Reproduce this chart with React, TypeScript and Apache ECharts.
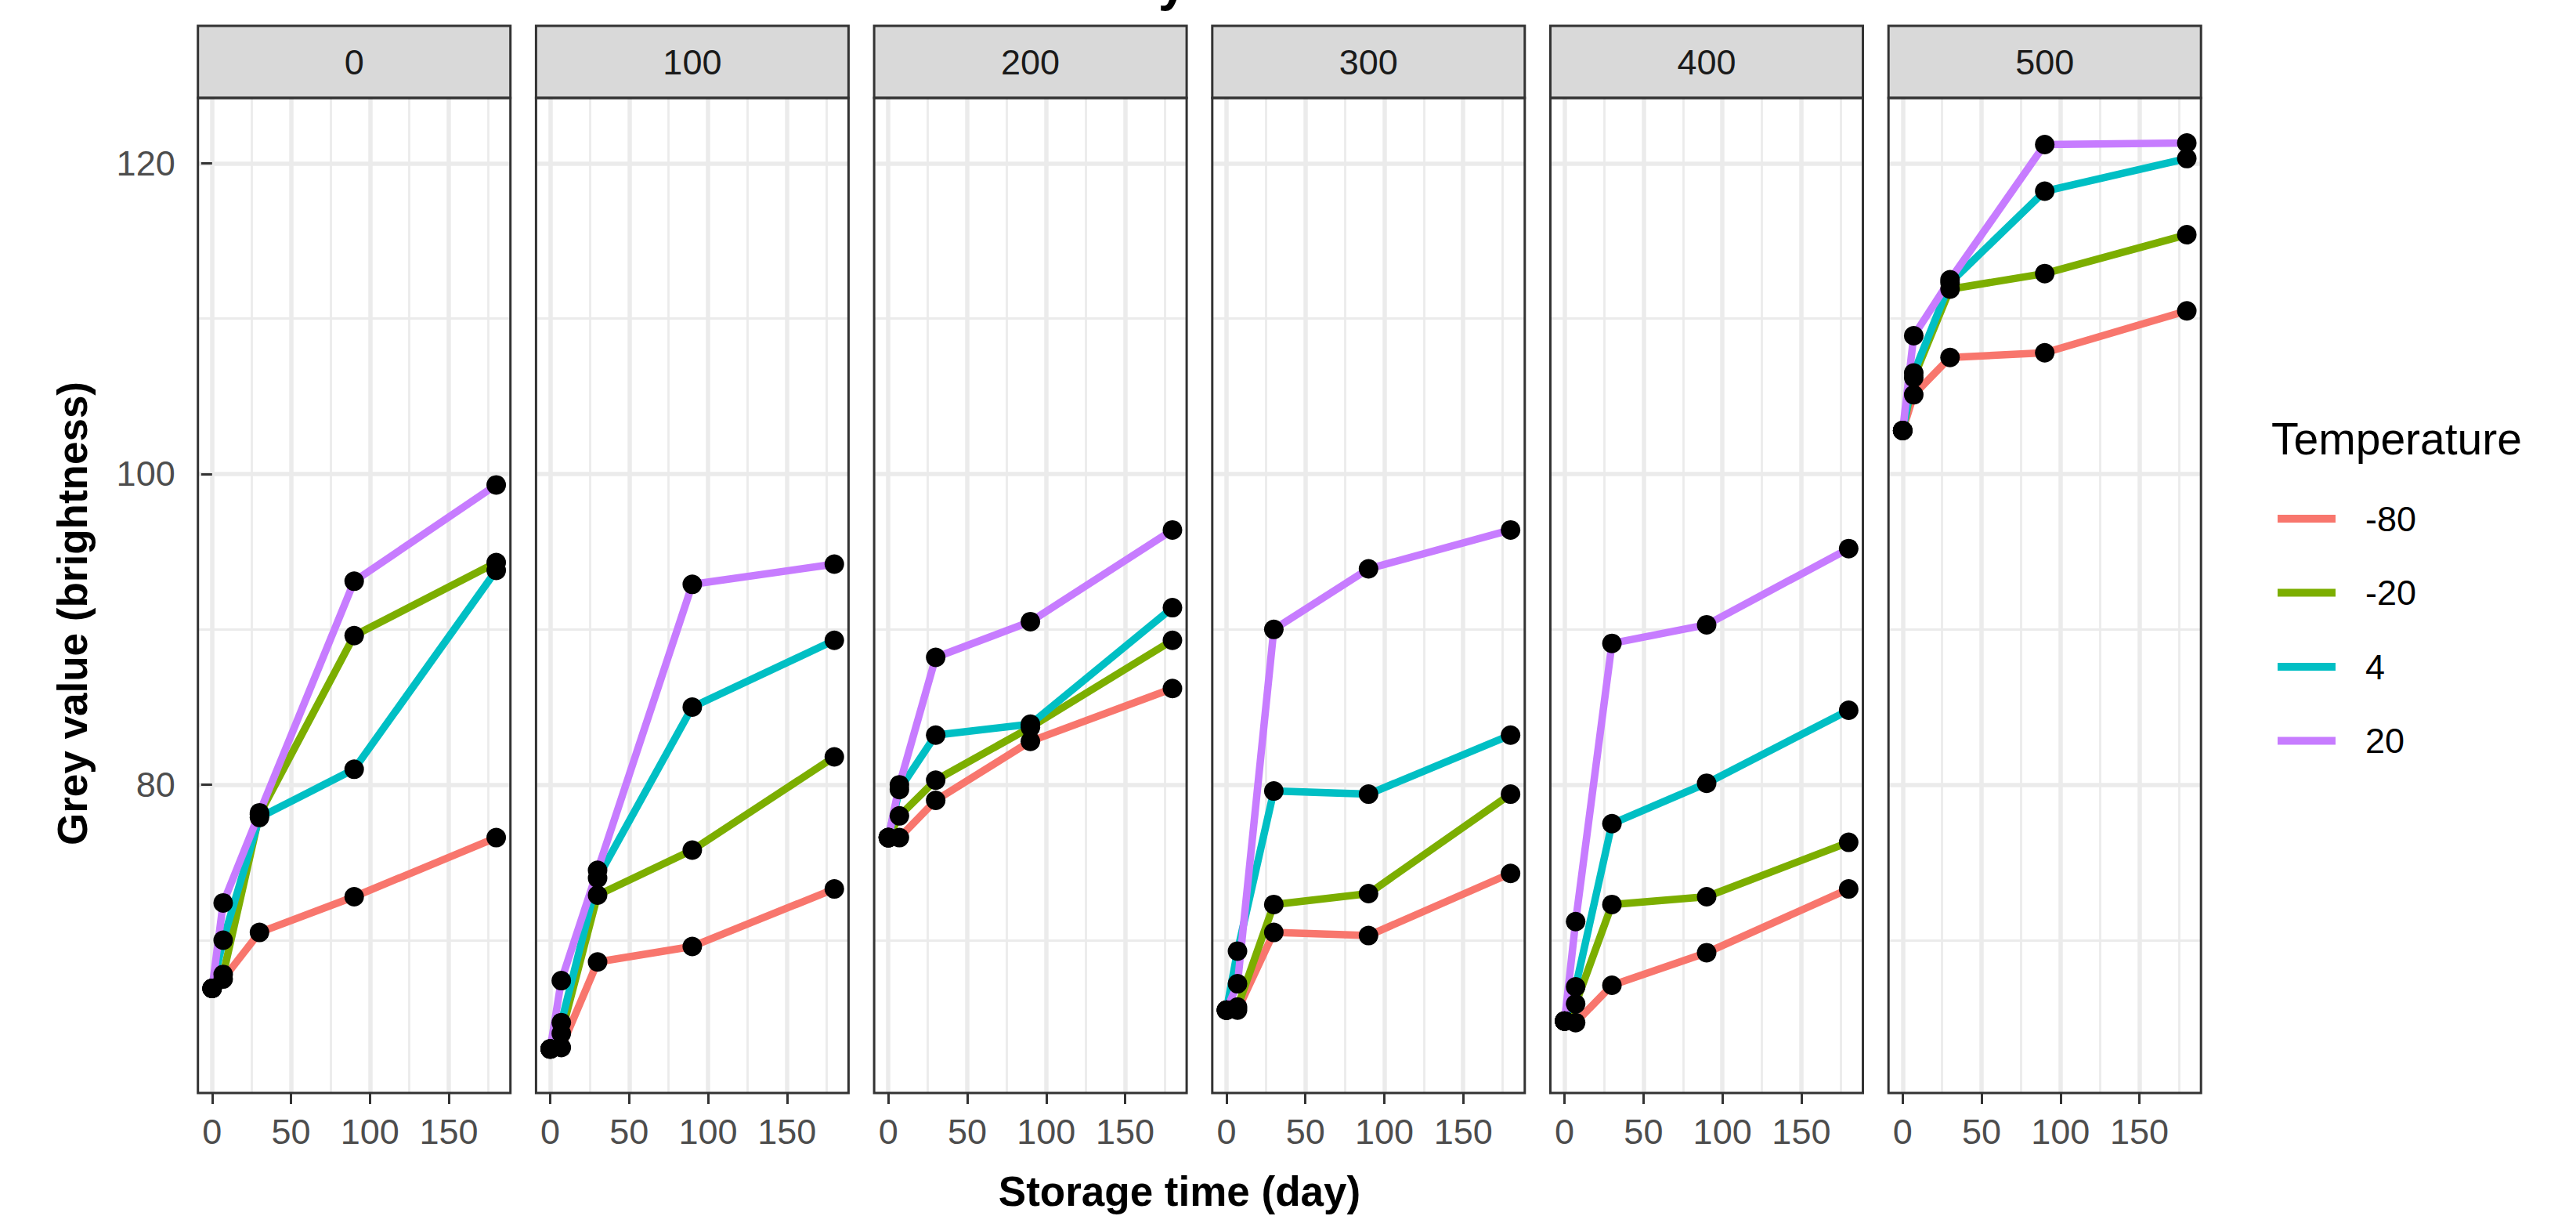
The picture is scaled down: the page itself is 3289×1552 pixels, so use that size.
import React, { useEffect, useRef } from 'react';
import * as echarts from 'echarts';

// ---------- data ----------
const days = [0, 7, 30, 90, 180];
const doses = ['0', '100', '200', '300', '400', '500'];
const temperatures = ['-80', '-20', '4', '20'];
const tempColors = ['#F8766D', '#7CAE00', '#00BFC4', '#C77CFF'];

// grey value: one row per dose panel, one column per storage day
const greyMinus80 = [
  [66.9, 67.5, 70.5, 72.8, 76.6],
  [63.0, 63.1, 68.6, 69.6, 73.3],
  [76.6, 76.6, 79.0, 82.8, 86.2],
  [65.5, 65.5, 70.5, 70.3, 74.3],
  [64.8, 64.7, 67.1, 69.2, 73.3],
  [102.8, 105.1, 107.5, 107.8, 110.5],
];
const greyMinus20 = [
  [66.9, 67.8, 78.1, 89.6, 94.3],
  [63.0, 64.0, 72.9, 75.8, 81.8],
  [76.6, 78.0, 80.3, 83.7, 89.3],
  [65.5, 65.7, 72.3, 73.0, 79.4],
  [64.8, 65.9, 72.3, 72.8, 76.3],
  [102.8, 106.2, 111.9, 112.9, 115.4],
];
const grey4 = [
  [66.9, 70.0, 77.9, 81.0, 93.8],
  [63.0, 64.7, 74.0, 85.0, 89.3],
  [76.6, 79.7, 83.2, 83.9, 91.4],
  [65.5, 69.3, 79.6, 79.4, 83.2],
  [64.8, 67.0, 77.5, 80.1, 84.8],
  [102.8, 106.5, 112.3, 118.2, 120.3],
];
const grey20 = [
  [66.9, 72.4, 78.2, 93.1, 99.3],
  [63.0, 67.4, 74.5, 92.9, 94.2],
  [76.6, 80.0, 88.2, 90.5, 96.4],
  [65.5, 67.2, 90.0, 93.9, 96.4],
  [64.8, 71.2, 89.1, 90.3, 95.2],
  [102.8, 108.9, 112.5, 121.2, 121.3],
];
const greyByTemp = [greyMinus80, greyMinus20, grey4, grey20];

const xTickValues = [0, 50, 100, 150];
const xMinorValues = [25, 75, 125, 175];
const yTickValues = [80, 100, 120];
const yMinorValues = [70, 90, 110];

// ---------- layout ----------
const W = 3289;
const H = 1552;
const FONT = 'Liberation Sans, Arial, Helvetica, sans-serif';
const PANEL_LEFT = 252.7;
const PANEL_STEP = 431.7;
const PANEL_W = 399;
const PANEL_TOP = 125;
const PANEL_H = 1270;
const STRIP_TOP = 33;
const X_MIN = -9;
const X_MAX = 189;
const Y_MIN = 60.17;
const Y_MAX = 124.2;
const BORDER = '#333333';
const GRID = '#EBEBEB';

function buildOption() {
  const grid: any[] = [];
  const xAxis: any[] = [];
  const yAxis: any[] = [];
  const series: any[] = [];
  const graphic: any[] = [];

  doses.forEach((dose, i) => {
    const left = PANEL_LEFT + i * PANEL_STEP;
    grid.push({ left, top: PANEL_TOP, width: PANEL_W, height: PANEL_H, containLabel: false, show: false });
    xAxis.push({
      type: 'value',
      gridIndex: i,
      min: X_MIN,
      max: X_MAX,
      splitNumber: 4,
      axisLine: { show: false },
      axisTick: { show: true, length: 14, customValues: xTickValues, lineStyle: { color: BORDER, width: 3 } },
      axisLabel: {
        show: true,
        customValues: xTickValues,
        formatter: (v: number) => (xTickValues.indexOf(v) >= 0 ? String(v) : ''),
        fontSize: 45,
        fontFamily: FONT,
        color: '#4D4D4D',
        margin: 27,
      },
      splitLine: { show: true, lineStyle: { color: GRID, width: 5.5 } },
      minorSplitLine: { show: false },
    });
    yAxis.push({
      type: 'value',
      gridIndex: i,
      min: Y_MIN,
      max: Y_MAX,
      splitNumber: 3,
      axisLine: { show: false },
      axisTick: { show: i === 0, length: 14, customValues: yTickValues, lineStyle: { color: BORDER, width: 3 } },
      axisLabel: {
        show: i === 0,
        customValues: yTickValues,
        formatter: (v: number) => (yTickValues.indexOf(v) >= 0 ? String(v) : ''),
        fontSize: 45,
        fontFamily: FONT,
        color: '#4D4D4D',
        margin: 29,
      },
      splitLine: { show: true, lineStyle: { color: GRID, width: 5.5 } },
    });

    temperatures.forEach((temp, t) => {
      const s: any = {
        type: 'line',
        name: temp,
        xAxisIndex: i,
        yAxisIndex: i,
        data: days.map((d, k) => [d, greyByTemp[t][i][k]]),
        showSymbol: false,
        symbol: 'none',
        color: tempColors[t],
        lineStyle: { width: 9.5, color: tempColors[t], join: 'round', cap: 'butt', opacity: 1 },
        silent: true,
        z: 10,
      };
      if (t === 0) {
        s.markLine = {
          silent: true,
          symbol: ['none', 'none'],
          label: { show: false },
          emphasis: { disabled: true },
          lineStyle: { type: 'solid', color: GRID, width: 2.8 },
          data: [
            ...xMinorValues.map((v) => ({ xAxis: v })),
            ...yMinorValues.map((v) => ({ yAxis: v })),
          ],
        };
      }
      series.push(s);
    });

    const pts: number[][] = [];
    temperatures.forEach((_, t) => days.forEach((d, k) => pts.push([d, greyByTemp[t][i][k]])));
    series.push({
      type: 'scatter',
      name: 'points' + dose,
      xAxisIndex: i,
      yAxisIndex: i,
      data: pts,
      symbol: 'circle',
      symbolSize: 25,
      itemStyle: { color: '#000000', opacity: 1 },
      silent: true,
      z: 20,
    });

    // strip
    graphic.push({
      type: 'rect',
      z: 100,
      shape: { x: left, y: STRIP_TOP, width: PANEL_W, height: PANEL_TOP - STRIP_TOP },
      style: { fill: '#D9D9D9', stroke: BORDER, lineWidth: 3 },
    });
    graphic.push({
      type: 'text',
      z: 101,
      x: left + PANEL_W / 2,
      y: (STRIP_TOP + PANEL_TOP) / 2,
      style: {
        text: dose,
        fontSize: 45,
        fontFamily: FONT,
        fill: '#1A1A1A',
        align: 'center',
        verticalAlign: 'middle',
      },
    });
    // panel border
    graphic.push({
      type: 'rect',
      z: 100,
      shape: { x: left, y: PANEL_TOP, width: PANEL_W, height: PANEL_H },
      style: { fill: 'none', stroke: BORDER, lineWidth: 3 },
    });
  });

  // axis titles, legend title, clipped plot title
  graphic.push({
    type: 'text',
    z: 101,
    x: 92,
    y: 783,
    rotation: Math.PI / 2,
    style: {
      text: 'Grey value (brightness)',
      fontSize: 53,
      fontWeight: 'bold',
      fontFamily: FONT,
      fill: '#000000',
      align: 'center',
      verticalAlign: 'middle',
    },
  });
  graphic.push({
    type: 'text',
    z: 101,
    x: 1506,
    y: 1520,
    style: {
      text: 'Storage time (day)',
      fontSize: 53,
      fontWeight: 'bold',
      fontFamily: FONT,
      fill: '#000000',
      align: 'center',
      verticalAlign: 'middle',
    },
  });
  graphic.push({
    type: 'text',
    z: 101,
    x: 2900,
    y: 560,
    style: {
      text: 'Temperature',
      fontSize: 57,
      fontFamily: FONT,
      fill: '#000000',
      align: 'left',
      verticalAlign: 'middle',
    },
  });
  graphic.push({
    type: 'text',
    z: 101,
    x: 1497,
    y: -23,
    style: {
      text: 'y',
      fontSize: 66,
      fontWeight: 'bold',
      fontFamily: FONT,
      fill: '#000000',
      align: 'center',
      verticalAlign: 'middle',
    },
  });

  return {
    animation: false,
    backgroundColor: '#FFFFFF',
    grid,
    xAxis,
    yAxis,
    series,
    graphic: { elements: graphic },
    legend: {
      data: temperatures,
      orient: 'vertical',
      left: 2908,
      top: 632,
      padding: 0,
      itemWidth: 74,
      itemHeight: 10,
      itemGap: 34.5,
      icon: 'rect',
      selectedMode: false,
      textStyle: { fontSize: 45, fontFamily: FONT, color: '#000000', lineHeight: 60, padding: [0, 0, 0, 33] },
    },
  };
}

export default function App() {
  const ref = useRef<HTMLDivElement>(null);
  useEffect(() => {
    if (!ref.current) return;
    const chart = echarts.init(ref.current, null, { renderer: 'svg' });
    chart.setOption(buildOption() as any);
    return () => chart.dispose();
  }, []);
  return <div ref={ref} style={{ position: 'fixed', left: 0, top: 0, width: W, height: H, background: '#fff' }} />;
}
